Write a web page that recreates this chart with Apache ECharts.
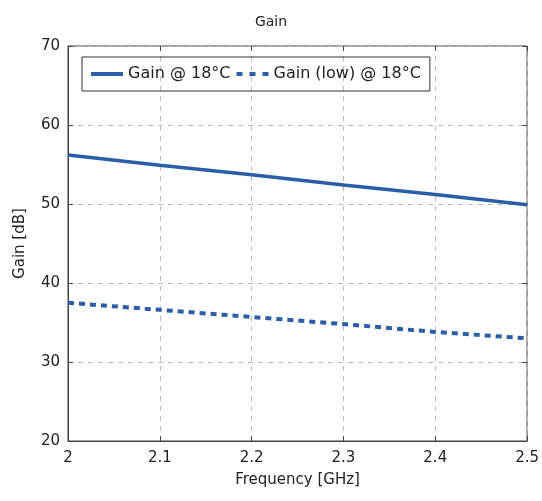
<!DOCTYPE html>
<html>
<head>
<meta charset="utf-8">
<style>
html, body { margin: 0; padding: 0; background: #fff; }
#myChart { width: 542px; height: 501px; }
</style>
<script src="https://cdn.jsdelivr.net/npm/echarts@6/dist/echarts.min.js"></script>
</head>
<body>
<div id="myChart"></div>
<script>
// 数据
const freq = [2.0, 2.1, 2.2, 2.3, 2.4, 2.5]
const gain = [56.2, 54.9, 53.7, 52.4, 51.2, 49.9]
const gainLow = [37.5, 36.6, 35.7, 34.8, 33.8, 33.0]

const blue = '#2b5ea8'
const font = 'DejaVu Sans'

let myChart = echarts.init(document.getElementById('myChart'))
myChart.setOption({
  textStyle: { fontFamily: font },
  title: {
    text: 'Gain',
    left: 'center',
    top: 10,
    textStyle: { fontSize: 14, fontWeight: 'normal', color: '#222', fontFamily: font }
  },
  grid: {
    left: 68, right: 14, top: 46, bottom: 60,
    show: true, borderColor: '#444', borderWidth: 1
  },
  legend: {
    left: 82, top: 57,
    padding: [9, 9, 9, 9],
    borderColor: '#333', borderWidth: 1,
    itemGap: 6, itemWidth: 32, itemHeight: 4,
    textStyle: { fontSize: 16, color: '#222', fontFamily: font },
    data: [
      { name: 'Gain @ 18°C', icon: 'path://M0,0 L32,0 L32,4 L0,4 Z' },
      { name: 'Gain (low) @ 18°C', icon: 'path://M0,0 L6,0 L6,4 L0,4 Z M13,0 L19,0 L19,4 L13,4 Z M26,0 L32,0 L32,4 L26,4 Z' }
    ]
  },
  xAxis: [
    {
      type: 'value', min: 2, max: 2.5, interval: 0.1,
      name: 'Frequency [GHz]', nameLocation: 'middle', nameGap: 32,
      nameTextStyle: { fontSize: 15, color: '#222' },
      axisLine: { show: true, lineStyle: { color: '#444' } },
      axisTick: { inside: true, length: 5, lineStyle: { color: '#444' } },
      axisLabel: { fontSize: 15, color: '#222', margin: 10, formatter: v => String(+v.toFixed(1)) },
      splitLine: { show: true, lineStyle: { color: '#bbb', type: [5, 5] } }
    },
    {
      type: 'value', min: 2, max: 2.5, interval: 0.1, position: 'top',
      axisLine: { show: false },
      axisTick: { inside: true, length: 5, lineStyle: { color: '#444' } },
      axisLabel: { show: false },
      splitLine: { show: false }
    }
  ],
  yAxis: [
    {
      type: 'value', min: 20, max: 70, interval: 10,
      name: 'Gain [dB]', nameLocation: 'middle', nameGap: 40,
      nameTextStyle: { fontSize: 15, color: '#222' },
      axisLine: { show: true, lineStyle: { color: '#444' } },
      axisTick: { show: true, inside: true, length: 5, lineStyle: { color: '#444' } },
      axisLabel: { fontSize: 15, color: '#222', margin: 8 },
      splitLine: { show: true, lineStyle: { color: '#bbb', type: [5, 5] } }
    },
    {
      type: 'value', min: 20, max: 70, interval: 10, position: 'right',
      axisLine: { show: false },
      axisTick: { show: true, inside: true, length: 5, lineStyle: { color: '#444' } },
      axisLabel: { show: false },
      splitLine: { show: false }
    }
  ],
  series: [
    {
      name: 'Gain @ 18°C',
      type: 'line',
      showSymbol: false,
      color: blue,
      lineStyle: { width: 3.5, color: blue },
      data: freq.map((f, i) => [f, gain[i]])
    },
    {
      name: 'Gain (low) @ 18°C',
      type: 'line',
      showSymbol: false,
      color: blue,
      lineStyle: { width: 4, color: blue, type: [6, 5] },
      data: freq.map((f, i) => [f, gainLow[i]])
    }
  ]
})
</script>
</body>
</html>
